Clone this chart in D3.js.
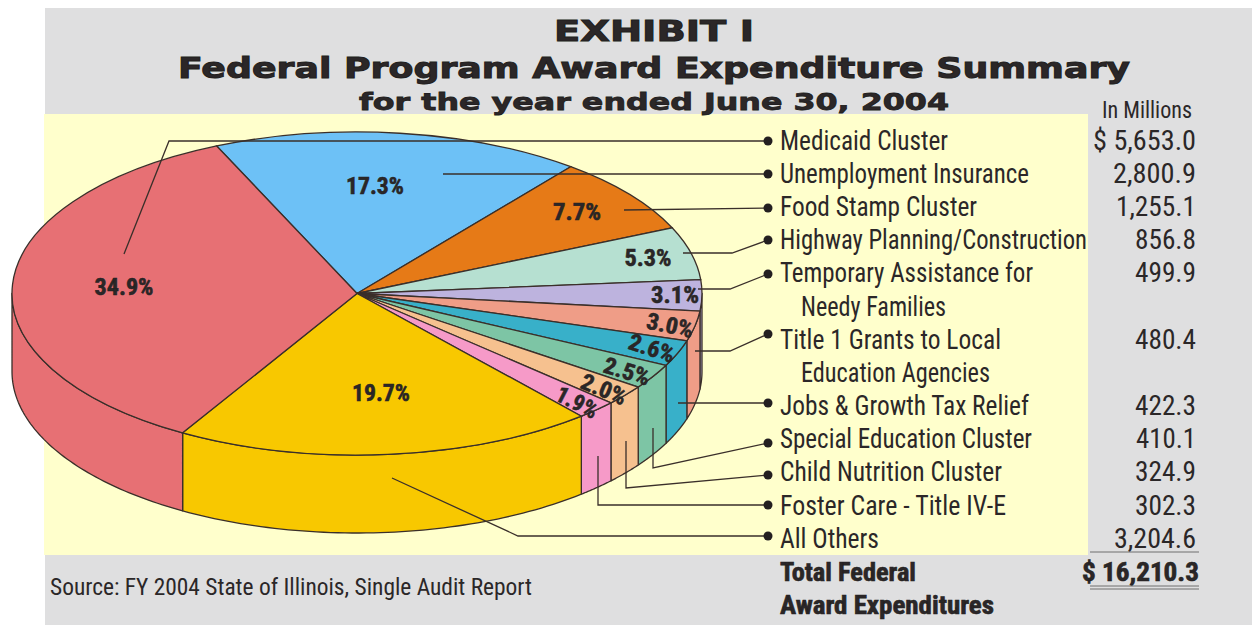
<!DOCTYPE html>
<html>
<head>
<meta charset="utf-8">
<script src="https://cdn.jsdelivr.net/npm/d3@7/dist/d3.min.js"></script>
<style>
  html, body { margin: 0; padding: 0; background: #fff; }
  svg { display: block; }
  text { fill: #2b2728; }
</style>
</head>
<body>
<svg id="chart" width="1252" height="625"></svg>
<script>
// Federal award expenditures, fiscal 2004, clockwise from the top of the pie
const programs = ["Unemployment Insurance", "Food Stamp Cluster", "Highway Planning/Construction",
  "Temporary Assistance for", "Title 1 Grants to Local", "Jobs & Growth Tax Relief",
  "Special Education Cluster", "Child Nutrition Cluster", "Foster Care - Title IV-E",
  "All Others", "Medicaid Cluster"];
const percents = [17.3, 7.7, 5.3, 3.1, 3.0, 2.6, 2.5, 2.0, 1.9, 19.7, 34.9];
const colors = ["#6dc1f6", "#e67a17", "#b6e0d1", "#bdb3de", "#ef9d87", "#38b0c9",
  "#7dc5a5", "#f6c18f", "#f69ac8", "#f8c800", "#e77074"];

// Table rows, top to bottom
const rowLabels = ["Medicaid Cluster", "Unemployment Insurance", "Food Stamp Cluster",
  "Highway Planning/Construction", "Temporary Assistance for", "Needy Families",
  "Title 1 Grants to Local", "Education Agencies", "Jobs & Growth Tax Relief",
  "Special Education Cluster", "Child Nutrition Cluster", "Foster Care - Title IV-E", "All Others"];
const rowAmounts = ["$ 5,653.0", "2,800.9", "1,255.1", "856.8", "499.9", "", "480.4", "",
  "422.3", "410.1", "324.9", "302.3", "3,204.6"];
const rowWidths = [168, 249, 197, 307, 253, 145, 221, 189, 249, 252, 222, 226, 99];
const amountWidths = [103, 83, 80, 61, 61, 0, 61, 0, 61, 60, 61, 61, 82];

const svg = d3.select("#chart");
const W = 1252, H = 625;
const cx = 357, cy = 293.5, rx = 345, ry = 161.5, depth = 78;
const startDeg = -24;
const outline = "#3a2f2a";
const narrow = "'Liberation Sans Narrow', 'Roboto Condensed', Roboto, sans-serif";
const wide = "'DejaVu Sans', sans-serif";

// Background panels
svg.append("rect").attr("x", 45).attr("y", 8).attr("width", W - 45).attr("height", H - 8).attr("fill", "#dfdfe0");
svg.append("rect").attr("x", 44).attr("y", 114).attr("width", 1044).attr("height", 441).attr("fill", "#ffffcc");

// Title block, stretched to the wide lettering of the heading
function title(txt, x, y, w, size, weight) {
  svg.append("text").attr("x", x).attr("y", y).attr("text-anchor", "middle")
    .attr("font-family", wide).attr("font-weight", "bold").attr("font-size", size)
    .attr("stroke", "#231f20").attr("stroke-width", weight)
    .attr("textLength", w).attr("lengthAdjust", "spacingAndGlyphs").text(txt);
}
title("EXHIBIT I", 654, 41, 200, 29, 1);
title("Federal Program Award Expenditure Summary", 654, 78, 952, 28, 1);
title("for the year ended June 30, 2004", 654, 110, 590, 23, 0.8);

// Slices from d3.pie, angles measured clockwise from twelve o'clock
const toRad = d3.scaleLinear().domain([0, 360]).range([0, 2 * Math.PI]);
const pie = d3.pie().sort(null).value(d => d)
  .startAngle(toRad(startDeg)).endAngle(toRad(startDeg + 360));
const slices = pie(percents);

const px = a => cx + rx * Math.sin(a);
const py = a => cy - ry * Math.cos(a);

// Side wall of the disc: only the part of each slice on the front half is visible
const wallLine = d3.line().x(d => d[0]).y(d => d[1]);
function wallPath(a0, a1) {
  const n = 60, top = [], bottom = [];
  d3.range(n + 1).forEach(i => {
    const a = a0 + (a1 - a0) * i / n;
    top.push([px(a), py(a)]);
    bottom.push([px(a), py(a) + depth]);
  });
  return wallLine(top.concat(bottom.reverse())) + "Z";
}
const front0 = Math.PI / 2, front1 = 3 * Math.PI / 2;
const walls = slices.map((s, i) => {
  const a0 = Math.max(s.startAngle, front0), a1 = Math.min(s.endAngle, front1);
  return a1 > a0 ? { a0, a1, color: colors[i] } : null;
}).filter(Boolean);
svg.append("g").selectAll("path").data(walls).join("path")
  .attr("d", d => wallPath(d.a0, d.a1))
  .attr("fill", d => d.color).attr("stroke", outline).attr("stroke-width", 1.3).attr("stroke-linejoin", "round");

// Top face: d3.arc squashed vertically into an ellipse
const arc = d3.arc().innerRadius(0).outerRadius(rx);
svg.append("g").attr("transform", `translate(${cx},${cy}) scale(1,${ry / rx})`)
  .selectAll("path").data(slices).join("path")
  .attr("d", arc).attr("fill", (d, i) => colors[i])
  .attr("stroke", outline).attr("stroke-width", 1.3).attr("vector-effect", "non-scaling-stroke");

// Percentage labels, in slice order: x, y, rotation, width
const pctPos = [[375, 186, 0, 58], [577, 212, 0, 48], [648, 258, 0, 47], [675, 295, 0, 48], [670, 325, 12, 47],
  [652, 348, 18, 47], [627, 371, 17, 47], [604, 389, 22, 47], [577, 402, 27, 44], [381, 393, 0, 58], [124, 287, 0, 59]];
const pctG = svg.append("g");
pctG.selectAll("text").data(percents).join("text")
  .attr("transform", (d, i) => `translate(${pctPos[i][0]},${pctPos[i][1]}) rotate(${pctPos[i][2]})`)
  .attr("text-anchor", "middle").attr("dy", "0.36em")
  .attr("font-family", narrow).attr("font-weight", "bold").attr("font-size", 23)
  .attr("textLength", (d, i) => pctPos[i][3]).attr("lengthAdjust", "spacingAndGlyphs")
  .attr("stroke", "#231f20").attr("stroke-width", 0.5)
  .text(d => d.toFixed(1) + "%");

// Leader lines from the slices out to the table rows
const leaders = [
  [[768, 141], [169, 141], [124, 254]],
  [[768, 174], [443, 174]],
  [[768, 208], [624, 210]],
  [[768, 240], [732, 253], [683, 253]],
  [[768, 274], [730, 289], [698, 289]],
  [[768, 334], [730, 351], [695, 351]],
  [[768, 403], [678, 403]],
  [[768, 443], [653, 468], [653, 428]],
  [[768, 475], [626, 488], [626, 441]],
  [[768, 505], [598, 505], [598, 456]],
  [[768, 536], [518, 536], [392, 478]]
];
const leaderLine = d3.line();
const leaderG = svg.append("g");
leaderG.selectAll("path").data(leaders).join("path")
  .attr("d", d => leaderLine(d)).attr("fill", "none").attr("stroke", outline).attr("stroke-width", 1.3);
leaderG.selectAll("circle").data(leaders).join("circle")
  .attr("cx", d => d[0][0]).attr("cy", d => d[0][1]).attr("r", 4.5).attr("fill", "#231f20");

// Table rows on a regular vertical band
const rowY = d3.scalePoint().domain(d3.range(rowLabels.length)).range([140, 538]);
const indented = new Set(["Needy Families", "Education Agencies"]);
const table = svg.append("g").attr("font-family", narrow).attr("font-size", 27);
table.selectAll("text.label").data(rowLabels).join("text").attr("class", "label")
  .attr("x", d => indented.has(d) ? 801 : 780)
  .attr("y", (d, i) => rowY(i)).attr("dy", "0.36em")
  .attr("textLength", (d, i) => rowWidths[i]).attr("lengthAdjust", "spacingAndGlyphs")
  .text(d => d);
table.selectAll("text.amount").data(rowAmounts.map((t, i) => ({ t, i })).filter(d => d.t)).join("text").attr("class", "amount")
  .attr("x", 1196).attr("y", d => rowY(d.i)).attr("dy", "0.36em").attr("text-anchor", "end")
  .attr("textLength", d => amountWidths[d.i]).attr("lengthAdjust", "spacingAndGlyphs")
  .text(d => d.t);

svg.append("text").attr("x", 1147).attr("y", 118).attr("text-anchor", "middle")
  .attr("font-family", narrow).attr("font-size", 23)
  .attr("textLength", 90).attr("lengthAdjust", "spacingAndGlyphs").text("In Millions");

// Total rows and rules
function bold(txt, x, y, w, anchor) {
  svg.append("text").attr("x", x).attr("y", y).attr("text-anchor", anchor)
    .attr("font-family", narrow).attr("font-weight", "bold").attr("font-size", 26)
    .attr("stroke", "#231f20").attr("stroke-width", 0.6)
    .attr("textLength", w).attr("lengthAdjust", "spacingAndGlyphs").text(txt);
}
bold("Total Federal", 780, 581, 136, "start");
bold("Award Expenditures", 780, 614, 214, "start");
bold("$ 16,210.3", 1199, 581, 117, "end");
svg.append("line").attr("x1", 1090).attr("x2", 1199).attr("y1", 552).attr("y2", 552).attr("stroke", "#6f6f6f").attr("stroke-width", 1);
svg.append("line").attr("x1", 1090).attr("x2", 1199).attr("y1", 586).attr("y2", 586).attr("stroke", "#6f6f6f").attr("stroke-width", 1);
svg.append("line").attr("x1", 1090).attr("x2", 1199).attr("y1", 589).attr("y2", 589).attr("stroke", "#6f6f6f").attr("stroke-width", 1);

svg.append("text").attr("x", 50).attr("y", 595).attr("font-family", narrow).attr("font-size", 23)
  .attr("textLength", 482).attr("lengthAdjust", "spacingAndGlyphs")
  .text("Source: FY 2004 State of Illinois, Single Audit Report");
</script>
</body>
</html>
